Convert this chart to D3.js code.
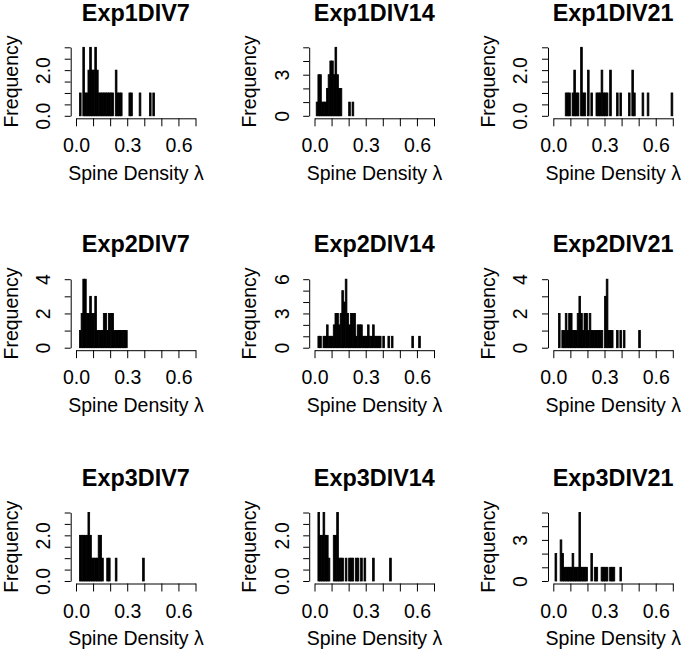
<!DOCTYPE html>
<html><head><meta charset="utf-8">
<script src="https://cdn.jsdelivr.net/npm/d3@7"></script>
<style>
body{margin:0;background:#fff}
svg text{font-family:"Liberation Sans",Arial,Helvetica,sans-serif;fill:#000}
</style>
</head><body>
<svg id="c" width="685" height="650"></svg>
<script>
// ---- data ----
const titles = ["Exp1DIV7","Exp1DIV14","Exp1DIV21","Exp2DIV7","Exp2DIV14","Exp2DIV21","Exp3DIV7","Exp3DIV14","Exp3DIV21"];
const binWidth = 0.01;          // histogram breaks every 0.01 from 0 to 0.7
const xTicks = [0,0.1,0.2,0.3,0.4,0.5,0.6,0.7];
const xTickLabels = [0,0.3,0.6];
const yMax = [3,5,3, 4,6,4, 3,3,5];
const yStep = [0.5,1,0.5, 1,1,1, 0.5,0.5,1];
const yTickLabels = [[0,2],[0,3],[0,2],[0,2,4],[0,3,6],[0,2,4],[0,2],[0,2],[0,3]];

const exp1div7 = [0,0,1,0,3,1,1,2,3,2, 2,3,2,1,1,1,1,1,1,1, 1,1,0,2,1,1,1,0,0,0, 0,1,1,0,0,0,0,1,0,0, 0,0,0,1,0,1,0,0,0,0, 0,0,0,0,0,0,0,0,0,0, 0,0,0,0,0,0,0,0,0,0];
const exp1div14 = [0,1,3,3,1,1,1,2,3,4, 4,3,5,3,2,2,0,0,0,0, 1,0,1,0,0,0,0,0,0,0, 0,0,0,0,0,0,0,0,0,0, 0,0,0,0,0,0,0,0,0,0, 0,0,0,0,0,0,0,0,0,0, 0,0,0,0,0,0,0,0,0,0];
const exp1div21 = [0,0,0,0,0,0,0,1,1,1, 0,1,2,1,1,0,3,1,1,0, 2,0,1,0,0,1,1,1,2,1, 1,1,0,2,0,0,0,1,0,1, 0,0,0,0,1,0,2,1,0,0, 0,0,1,0,0,1,0,0,0,0, 0,0,0,0,0,0,0,0,0,1];
const exp2div7 = [0,0,1,2,4,4,2,2,3,2, 2,3,1,1,1,1,2,2,1,2, 2,2,1,1,1,1,1,1,1,1, 0,0,0,0,0,0,0,0,0,0, 0,0,0,0,0,0,0,0,0,0, 0,0,0,0,0,0,0,0,0,0, 0,0,0,0,0,0,0,0,0,0];
const exp2div14 = [0,0,1,1,0,1,1,2,1,1, 1,2,3,3,2,3,5,4,6,3, 2,3,3,3,1,2,2,2,1,1, 1,2,1,1,2,1,1,1,1,0, 1,0,0,1,0,1,0,0,0,0, 0,0,0,0,0,0,0,1,0,0, 0,1,0,0,0,0,0,0,0,0];
const exp2div21 = [0,0,0,2,0,1,1,2,1,2, 2,1,1,1,2,3,2,1,2,2, 1,2,1,1,1,1,1,1,1,0, 3,4,1,1,1,0,0,1,0,1, 0,1,0,0,0,0,0,0,0,0, 1,0,0,0,0,0,0,0,0,0, 0,0,0,0,0,0,0,0,0,0];
const exp3div7 = [0,0,2,2,2,2,2,3,2,1, 1,1,1,2,2,1,0,0,1,1, 0,0,0,1,0,0,0,0,0,0, 0,0,0,0,0,0,0,0,0,1, 0,0,0,0,0,0,0,0,0,0, 0,0,0,0,0,0,0,0,0,0, 0,0,0,0,0,0,0,0,0,0];
const exp3div14 = [0,0,3,2,2,3,2,2,1,0, 0,2,2,3,1,1,1,0,1,0, 1,1,1,0,1,1,0,1,0,1, 0,0,0,0,1,0,0,0,0,0, 0,0,0,0,1,0,0,0,0,0, 0,0,0,0,0,0,0,0,0,0, 0,0,0,0,0,0,0,0,0,0];
const exp3div21 = [0,2,0,0,3,2,1,1,1,1, 1,2,1,1,1,5,1,1,1,1, 0,0,2,0,1,1,0,0,1,1, 1,1,0,1,1,1,0,0,0,1, 0,0,0,0,0,0,0,0,0,0, 0,0,0,0,0,0,0,0,0,0, 0,0,0,0,0,0,0,0,0,0];
const seriesCounts = [exp1div7,exp1div14,exp1div21,exp2div7,exp2div14,exp2div21,exp3div7,exp3div14,exp3div21];

// ---- layout ----
const colX0 = [76, 314.5, 553.3];
const rowY0 = [115.8, 347.7, 581];
const plotW = 119.5, plotH = 68.5;
const fs = 19.5;

const svg = d3.select("#c");

titles.forEach((title, i) => {
  const r = Math.floor(i / 3), c = i % 3;
  const x0 = colX0[c], y0 = rowY0[r];
  const counts = seriesCounts[i];
  const x = d3.scaleLinear().domain([0, 0.7]).range([x0, x0 + plotW]);
  const y = d3.scaleLinear().domain([0, yMax[i]]).range([y0, y0 - plotH]);
  const g = svg.append("g");

  // bars (all bins, zero bins become the baseline)
  g.append("g").selectAll("rect").data(counts).join("rect")
    .attr("x", (d, k) => x(k * binWidth))
    .attr("width", (d, k) => x((k + 1) * binWidth) - x(k * binWidth))
    .attr("y", d => y(d))
    .attr("height", d => y(0) - y(d))
    .attr("fill", "#000").attr("stroke", "#000").attr("stroke-width", 0.8);

  // x axis
  const xa = d3.axisBottom(x).tickValues(xTicks)
    .tickFormat(v => xTickLabels.includes(v) ? v.toFixed(1) : "")
    .tickSize(8).tickSizeOuter(0);
  const gx = g.append("g").attr("transform", `translate(0,${y0 + 2.5})`).call(xa);
  gx.attr("font-family", null).attr("font-size", null);
  gx.selectAll("path,line").attr("stroke", "#000").attr("stroke-width", 1);
  gx.selectAll("text").attr("y", 34).attr("dy", 0).style("font-size", fs + "px");

  // y axis
  const yt = d3.range(0, yMax[i] + yStep[i] / 2, yStep[i]);
  const ya = d3.axisLeft(y).tickValues(yt)
    .tickFormat(v => yTickLabels[i].includes(v) ? (yStep[i] < 1 ? v.toFixed(1) : String(v)) : "")
    .tickSize(6).tickSizeOuter(0);
  const gy = g.append("g").attr("transform", `translate(${x0 - 5.3},0)`).call(ya);
  gy.attr("font-family", null).attr("font-size", null);
  gy.selectAll("path,line").attr("stroke", "#000").attr("stroke-width", 1);
  gy.selectAll("text").attr("x", 0).attr("dy", 0)
    .attr("transform", "translate(-20.7,0) rotate(-90)")
    .attr("text-anchor", "middle").style("font-size", fs + "px");

  // title
  g.append("text").attr("x", x0 + 59.8).attr("y", y0 - 95.3)
    .attr("text-anchor", "middle").style("font-size", "23.4px").style("font-weight", "bold")
    .text(title);
  // y label
  g.append("text").attr("transform", `translate(${x0 - 58.3},${y0 - 34.25}) rotate(-90)`)
    .attr("text-anchor", "middle").style("font-size", fs + "px").text("Frequency");
  // x label
  g.append("text").attr("x", x0 + 60).attr("y", y0 + 64.3)
    .attr("text-anchor", "middle").style("font-size", fs + "px").text("Spine Density λ");
});
</script>
</body></html>
